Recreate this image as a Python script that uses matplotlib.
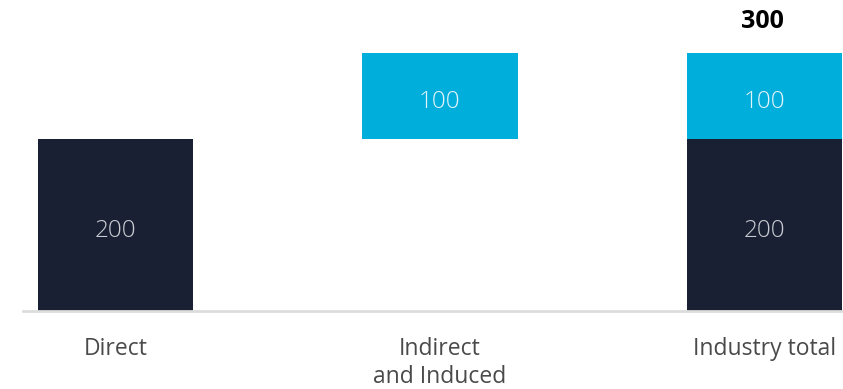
import matplotlib.pyplot as plt

plt.rcParams['font.family'] = ['Open Sans', 'DejaVu Sans']

categories = ['Direct', 'Indirect\nand Induced', 'Industry total']
direct = [200, 0, 200]
indirect = [0, 100, 100]
indirect_base = [0, 200, 200]
total = 300

navy = '#1a2033'
cyan = '#00aedb'

fig = plt.figure(figsize=(8.43, 3.89), dpi=100)
ax = fig.add_axes([23 / 843, (389 - 311) / 389, 820 / 843, 311 / 389])

x = range(len(categories))
width = 0.478
ax.bar(x, direct, width, color=navy)
ax.bar(x, indirect, width, bottom=indirect_base, color=cyan)

# values written inside each segment, sitting a touch below the middle
for i in x:
    if direct[i]:
        ax.text(i, direct[i] / 2 - 4, f'{direct[i]}', ha='center',
                va='center_baseline', color='#c9ccd3', fontsize=17.5,
                fontweight='light')
    if indirect[i]:
        ax.text(i, indirect_base[i] + indirect[i] / 2 - 3, f'{indirect[i]}',
                ha='center', va='center_baseline', color='#e3f3fa',
                fontsize=17.5, fontweight='light')

ax.text(1.995, total + 37, f'{total}', ha='center', va='center',
        color='black', fontsize=18, fontweight='bold')

ax.set_xlim(-0.285, 2.242)
ax.set_ylim(0, 361.6)
ax.set_xticks(list(x))
ax.set_xticklabels(categories, fontsize=16.5, color='#4a4a4a', linespacing=1.22)
ax.tick_params(axis='x', length=0, pad=19)
ax.set_yticks([])
for side in ['top', 'right', 'left']:
    ax.spines[side].set_visible(False)
ax.spines['bottom'].set_color('#dddddd')
ax.spines['bottom'].set_linewidth(2)

fig.savefig('out.png', dpi=100)
